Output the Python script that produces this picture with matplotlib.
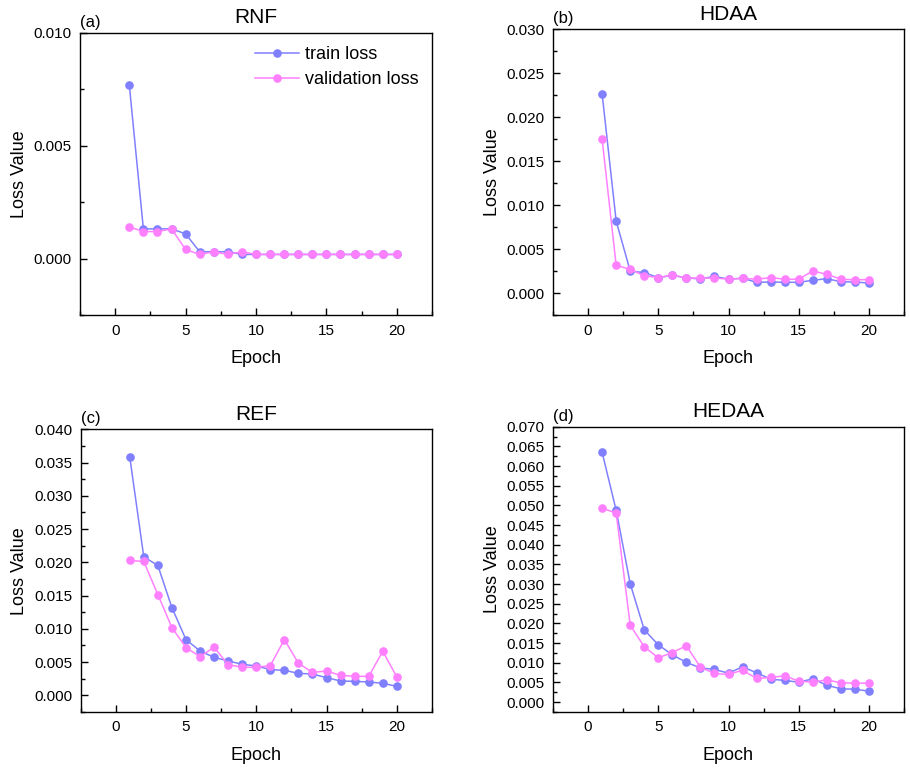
import matplotlib
matplotlib.use("Agg")
import matplotlib.pyplot as plt
from matplotlib.ticker import MultipleLocator

plt.rcParams['font.family'] = ['Liberation Sans', 'DejaVu Sans']

epochs = list(range(1, 21))

rnf_train = [0.00769, 0.00132, 0.00132, 0.00132, 0.00110, 0.00031, 0.00031, 0.00031, 0.00019, 0.00019,
             0.00019, 0.00019, 0.00019, 0.00019, 0.00019, 0.00019, 0.00019, 0.00019, 0.00019, 0.00019]
rnf_val = [0.00141, 0.00120, 0.00120, 0.00132, 0.00041, 0.00019, 0.00031, 0.00019, 0.00031, 0.00019,
           0.00019, 0.00019, 0.00019, 0.00019, 0.00019, 0.00019, 0.00019, 0.00019, 0.00019, 0.00019]

hdaa_train = [0.02264, 0.00820, 0.00253, 0.00235, 0.00178, 0.00204, 0.00175, 0.00163, 0.00193, 0.00160,
              0.00171, 0.00125, 0.00128, 0.00125, 0.00125, 0.00148, 0.00166, 0.00132, 0.00128, 0.00117]
hdaa_val = [0.01750, 0.00317, 0.00272, 0.00200, 0.00178, 0.00208, 0.00175, 0.00171, 0.00175, 0.00160,
            0.00171, 0.00160, 0.00178, 0.00160, 0.00160, 0.00253, 0.00216, 0.00160, 0.00153, 0.00156]

ref_train = [0.0359, 0.02083, 0.01953, 0.0132, 0.00839, 0.00667, 0.00572, 0.00517, 0.00467, 0.00442,
             0.00387, 0.00377, 0.00331, 0.00321, 0.00266, 0.00216, 0.00211, 0.00201, 0.00181, 0.00136]
ref_val = [0.02028, 0.02013, 0.01516, 0.0102, 0.00718, 0.00582, 0.00723, 0.00462, 0.00422, 0.00422,
           0.00447, 0.00839, 0.00482, 0.00346, 0.00366, 0.00301, 0.00286, 0.00286, 0.00663, 0.00276]

hedaa_train = [0.06347, 0.04873, 0.03008, 0.01838, 0.01457, 0.01203, 0.01009, 0.00873, 0.00831, 0.00737,
               0.00898, 0.00746, 0.00585, 0.00551, 0.00508, 0.00593, 0.00432, 0.00339, 0.0033, 0.00279]
hedaa_val = [0.04931, 0.04804, 0.01957, 0.01406, 0.01127, 0.01262, 0.01432, 0.0089, 0.00729, 0.00703,
             0.00814, 0.00602, 0.00627, 0.0067, 0.00534, 0.00508, 0.00568, 0.00491, 0.00483, 0.00483]

titles = ["RNF", "HDAA", "REF", "HEDAA"]
letters = ["(a)", "(b)", "(c)", "(d)"]
y_tops = [0.010, 0.030, 0.040, 0.070]
y_steps = [0.005, 0.005, 0.005, 0.005]
train_sets = [rnf_train, hdaa_train, ref_train, hedaa_train]
val_sets = [rnf_val, hdaa_val, ref_val, hedaa_val]

train_color = "#8080ff"
val_color = "#ff80ff"

W, H = 910, 772
boxes = [(80, 432, 32.5, 315.3), (553, 904, 29.3, 315.3),
         (80.5, 432, 429.3, 712), (553, 904, 426.7, 712)]

fig = plt.figure(figsize=(W / 100, H / 100), dpi=100)

for i in range(4):
    l, r, t, b = boxes[i]
    ax = fig.add_axes([l / W, 1 - b / H, (r - l) / W, (b - t) / H])
    ax.plot(epochs, train_sets[i], color=train_color, marker="o", markersize=5.2,
            linewidth=1.1, label="train loss")
    ax.plot(epochs, val_sets[i], color=val_color, marker="o", markersize=5.2,
            linewidth=1.1, label="validation loss")
    ax.set_xlim(-2.5, 22.5)
    ax.set_ylim(-0.0025, y_tops[i])
    ax.xaxis.set_major_locator(MultipleLocator(5))
    ax.xaxis.set_minor_locator(MultipleLocator(2.5))
    ax.yaxis.set_major_locator(MultipleLocator(y_steps[i]))
    ax.yaxis.set_minor_locator(MultipleLocator(y_steps[i] / 2))
    ax.yaxis.set_major_formatter(plt.FormatStrFormatter("%.3f"))
    ax.tick_params(which="both", direction="in", labelsize=11, top=False, right=False)
    ax.tick_params(which="major", length=5, width=1, pad=6)
    ax.tick_params(which="minor", length=3, width=1)
    for s in ax.spines.values():
        s.set_linewidth(1.0)
    ax.set_xlabel("Epoch", fontsize=13, labelpad=9)
    ax.set_ylabel("Loss Value", fontsize=13, labelpad=4)
    ax.set_title(titles[i], fontsize=15, pad=7)
    ax.text(0.0, 1.01, letters[i], transform=ax.transAxes, fontsize=12,
            ha="left", va="bottom")
    if i == 0:
        ax.legend(loc="upper right", frameon=False, fontsize=13,
                  handlelength=2.4, handletextpad=0.35, borderaxespad=0.4,
                  borderpad=0.35, labelspacing=0.45)

fig.savefig("out.png", dpi=100)
